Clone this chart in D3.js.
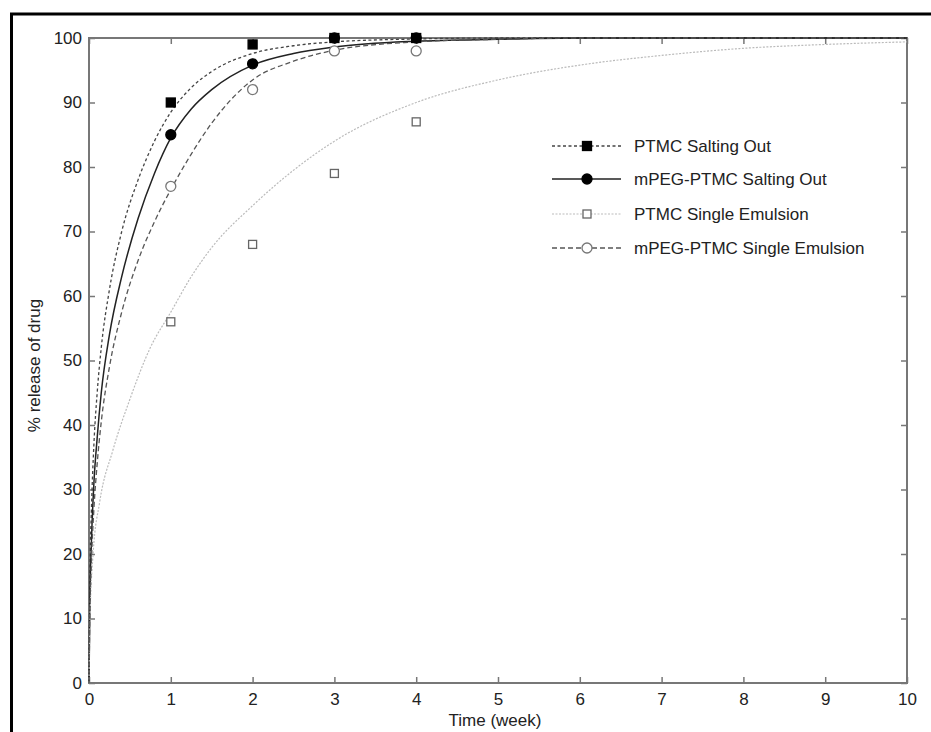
<!DOCTYPE html>
<html>
<head>
<meta charset="utf-8">
<script src="https://cdn.jsdelivr.net/npm/d3@7"></script>
<style>
  body { margin: 0; background: #fff; }
  text { font-family: "Liberation Sans", Arial, sans-serif; fill: #222; }
</style>
</head>
<body>
<div id="drawing_region"></div>
<script>
// measured points (week, % released)
var weeks = [1, 2, 3, 4];
var ptmcSO = [90, 99, 100, 100];
var mpegSO = [85, 96, 100, 100];
var ptmcSE = [56, 68, 79, 87];
var mpegSE = [77, 92, 98, 98];

// fitted curves
var fitT   = [0, 0.01, 0.03, 0.06, 0.1, 0.15, 0.25, 0.4, 0.6, 0.8, 1, 1.25, 1.5, 2, 2.5, 3, 4, 5, 6, 8, 10];
var fitPtmcSO = [0, 16, 27, 37, 45, 52, 61, 70, 78, 84, 88.5, 92.3, 94.8, 97.6, 98.8, 99.4, 99.85, 100, 100, 100, 100];
var fitMpegSO = [0, 12, 22, 31, 38, 45, 54, 63, 72, 79, 84.5, 89, 92, 95.8, 97.6, 98.6, 99.5, 99.8, 100, 100, 100];
var fitMpegSE = [0, 10, 19, 27, 34, 40.5, 49, 57.5, 65.5, 71.5, 76.5, 82, 86.8, 93.5, 96.4, 98.1, 99.4, 99.8, 100, 100, 100];
var fitSeT  = [0, 0.01, 0.05, 0.13, 0.29, 0.5, 0.75, 1, 1.25, 1.5, 2, 2.5, 3, 4, 5, 6, 7, 8, 9, 10];
var fitPtmcSE = [0, 9, 20, 28, 36, 44, 52, 57.5, 63, 67.5, 74, 79.5, 84, 90, 93.5, 95.8, 97.3, 98.4, 99, 99.4];

var xTicks = [0, 1, 2, 3, 4, 5, 6, 7, 8, 9, 10];
var yTicks = [0, 10, 20, 30, 40, 50, 60, 70, 80, 90, 100];
var legendNames = ["PTMC Salting Out", "mPEG-PTMC Salting Out", "PTMC Single Emulsion", "mPEG-PTMC Single Emulsion"];

var width = 931, height = 732;
var margin = { top: 38, right: 24, bottom: 49, left: 89 };

var svg = d3.select("#drawing_region").append("svg")
    .attr("width", width)
    .attr("height", height);

// outer black frame
svg.append("rect")
    .attr("x", 11.5).attr("y", 14)
    .attr("width", 940).attr("height", 740)
    .attr("fill", "none").attr("stroke", "#000").attr("stroke-width", 3);

var xScale = d3.scaleLinear().domain([0, 10]).range([margin.left, width - margin.right]);
var yScale = d3.scaleLinear().domain([0, 100]).range([height - margin.bottom, margin.top]);

var axisColor = "#777";

// box
svg.append("rect")
    .attr("x", xScale(0)).attr("y", yScale(100))
    .attr("width", xScale(10) - xScale(0)).attr("height", yScale(0) - yScale(100))
    .attr("fill", "none").attr("stroke", axisColor).attr("stroke-width", 2);

function styleAxis(g) {
    g.select(".domain").remove();
    g.selectAll(".tick line").attr("stroke", axisColor).attr("stroke-width", 1.5);
    g.selectAll(".tick text").attr("fill", "#222").style("font-size", "17px")
        .style("font-family", "'Liberation Sans', Arial, sans-serif");
}

svg.append("g")
    .attr("transform", "translate(0," + yScale(0) + ")")
    .call(d3.axisBottom(xScale).tickValues(xTicks).tickSize(-6).tickPadding(10).tickFormat(d3.format("d")))
    .call(styleAxis);
svg.append("g")
    .attr("transform", "translate(0," + yScale(100) + ")")
    .call(d3.axisTop(xScale).tickValues(xTicks).tickSize(-6).tickFormat(""))
    .call(styleAxis);
svg.append("g")
    .attr("transform", "translate(" + xScale(0) + ",0)")
    .call(d3.axisLeft(yScale).tickValues(yTicks).tickSize(-6).tickPadding(7).tickFormat(d3.format("d")))
    .call(styleAxis);
svg.append("g")
    .attr("transform", "translate(" + xScale(10) + ",0)")
    .call(d3.axisRight(yScale).tickValues(yTicks).tickSize(-6).tickFormat(""))
    .call(styleAxis);

// axis titles
svg.append("text")
    .attr("x", (xScale(0) + xScale(10)) / 2 - 3)
    .attr("y", 726)
    .attr("text-anchor", "middle")
    .style("font-size", "17px")
    .text("Time (week)");
svg.append("text")
    .attr("transform", "translate(40," + ((yScale(0) + yScale(100)) / 2 + 5) + ") rotate(-90)")
    .attr("text-anchor", "middle")
    .style("font-size", "17px")
    .text("% release of drug");

// series styles
var series = [
    { name: legendNames[0], t: fitT, v: fitPtmcSO, pts: ptmcSO, color: "#444", width: 1.3, dash: "3,2.5", marker: "square", fill: "#000", stroke: "#000" },
    { name: legendNames[1], t: fitT, v: fitMpegSO, pts: mpegSO, color: "#222", width: 1.5, dash: null, marker: "circle", fill: "#000", stroke: "#000" },
    { name: legendNames[2], t: fitSeT, v: fitPtmcSE, pts: ptmcSE, color: "#bbb", width: 1.2, dash: "2,1.5", marker: "square", fill: "#fff", stroke: "#666" },
    { name: legendNames[3], t: fitT, v: fitMpegSE, pts: mpegSE, color: "#555", width: 1.3, dash: "5,3", marker: "circle", fill: "#fff", stroke: "#777" }
];

var line = d3.line()
    .x(function (d) { return xScale(d[0]); })
    .y(function (d) { return yScale(d[1]); })
    .curve(d3.curveMonotoneX);

var plot = svg.append("g");

series.forEach(function (s) {
    plot.append("path")
        .datum(s.t.map(function (t, i) { return [t, s.v[i]]; }))
        .attr("d", line)
        .attr("fill", "none")
        .attr("stroke", s.color)
        .attr("stroke-width", s.width)
        .attr("stroke-dasharray", s.dash);
});

function drawMarker(g, s, cx, cy) {
    if (s.marker === "square") {
        var sz = s.fill === "#000" ? 9 : 8;
        g.append("rect")
            .attr("x", cx - sz / 2).attr("y", cy - sz / 2)
            .attr("width", sz).attr("height", sz)
            .attr("fill", s.fill).attr("stroke", s.stroke).attr("stroke-width", 1.3);
    } else {
        g.append("circle")
            .attr("cx", cx).attr("cy", cy).attr("r", 5)
            .attr("fill", s.fill).attr("stroke", s.stroke).attr("stroke-width", 1.3);
    }
}

[2, 3, 0, 1].forEach(function (k) {
    var s = series[k];
    s.pts.forEach(function (v, i) {
        drawMarker(plot, s, xScale(weeks[i]), yScale(v));
    });
});

// legend
var legendY = [146, 179, 214, 248];
var legend = svg.append("g");
series.forEach(function (s, i) {
    var y = legendY[i];
    legend.append("line")
        .attr("x1", 552).attr("x2", 621)
        .attr("y1", y).attr("y2", y)
        .attr("stroke", s.color)
        .attr("stroke-width", s.width)
        .attr("stroke-dasharray", s.dash);
    drawMarker(legend, s, 587, y);
    legend.append("text")
        .attr("x", 634).attr("y", y + 6)
        .style("font-size", "17px")
        .text(s.name);
});
</script>
</body>
</html>
